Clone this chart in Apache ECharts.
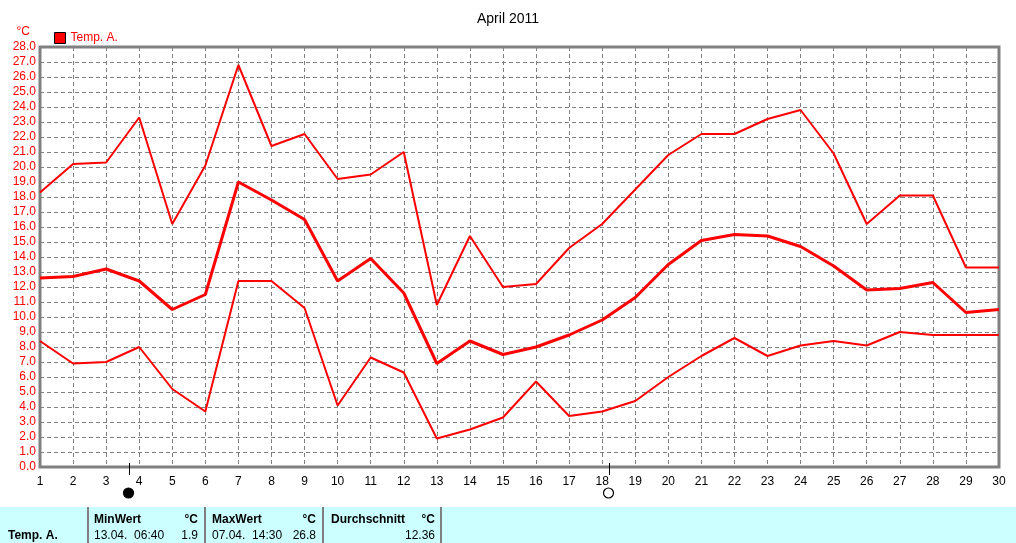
<!DOCTYPE html>
<html>
<head>
<meta charset="utf-8">
<script src="https://cdn.jsdelivr.net/npm/echarts@6/dist/echarts.min.js"></script>
<style>
  html, body { margin: 0; padding: 0; background: #fff; }
  #chart { width: 1016px; height: 543px; }
</style>
</head>
<body>
<div id="chart"></div>
<script>
// days of April 2011
const days = [];
for (let d = 1; d <= 30; d++) days.push(d);

// daily max / mean / min temperature, °C
const tempMax = [18.3, 20.2, 20.3, 23.3, 16.2, 20.1, 26.8, 21.4, 22.2, 19.2,
                 19.5, 21.0, 10.8, 15.4, 12.0, 12.2, 14.6, 16.2, 18.5, 20.8,
                 22.2, 22.2, 23.2, 23.8, 20.9, 16.2, 18.1, 18.1, 13.3, 13.3];
const tempMean = [12.6, 12.7, 13.2, 12.4, 10.5, 11.5, 19.0, 17.8, 16.5, 12.4,
                  13.9, 11.6, 6.9, 8.4, 7.5, 8.0, 8.8, 9.8, 11.3, 13.5,
                  15.1, 15.5, 15.4, 14.7, 13.4, 11.8, 11.9, 12.3, 10.3, 10.5];
const tempMin = [8.4, 6.9, 7.0, 8.0, 5.2, 3.7, 12.4, 12.4, 10.6, 4.1,
                 7.3, 6.3, 1.9, 2.5, 3.3, 5.7, 3.4, 3.7, 4.4, 6.0,
                 7.4, 8.6, 7.4, 8.1, 8.4, 8.1, 9.0, 8.8, 8.8, 8.8];

// moon phases (day position, new / full)
const moonDays = [3.7, 18.2];
const moonFull = [false, true];

// summary table
const seriesName = 'Temp. A.';
const minEntry = ['13.04.  06:40', '1.9'];
const maxEntry = ['07.04.  14:30', '26.8'];
const avgEntry = '12.36';

const font = '"Liberation Sans", Arial, sans-serif';

const chartDom = document.getElementById('chart');
const myChart = echarts.init(chartDom);

const toPairs = (arr) => arr.map((v, i) => [days[i], v]);

const lineSeries = (data, width) => ({
    name: seriesName,
    type: 'line',
    data: toPairs(data),
    symbol: 'none',
    color: '#ff0000',
    lineStyle: { color: '#ff0000', width: width },
});

const option = {
    animation: false,
    textStyle: { fontFamily: font },
    title: {
        text: 'April 2011',
        left: 'center',
        top: 7,
        textStyle: { fontFamily: font, fontSize: 14, fontWeight: 'normal', color: '#000' },
    },
    legend: {
        left: 49,
        top: 27,
        icon: 'rect',
        itemWidth: 11,
        itemHeight: 11,
        itemGap: 4,
        data: [seriesName],
        itemStyle: { borderColor: '#000', borderWidth: 1 },
        textStyle: { color: '#ff0000', fontSize: 12, fontFamily: font },
    },
    grid: {
        left: 40,
        top: 47,
        right: 17,
        bottom: 76,
        show: true,
        borderColor: '#808080',
        borderWidth: 3,
        containLabel: false,
    },
    xAxis: {
        type: 'value',
        min: 1,
        max: 30,
        interval: 1,
        axisLine: { show: false },
        axisTick: { show: false },
        axisLabel: { color: '#000', fontSize: 12, margin: 9, fontFamily: font },
        splitLine: { show: true, lineStyle: { color: '#808080', type: [4, 3], width: 1 } },
    },
    yAxis: {
        type: 'value',
        min: 0,
        max: 28,
        interval: 1,
        name: '°C',
        nameLocation: 'end',
        nameGap: 9,
        nameTextStyle: { color: '#ff0000', fontSize: 12, align: 'right', padding: [0, 10, 0, 0], fontFamily: font },
        axisLine: { show: false },
        axisTick: { show: false },
        axisLabel: {
            color: '#ff0000',
            fontSize: 12,
            margin: 4,
            fontFamily: font,
            formatter: (v) => v.toFixed(1),
        },
        splitLine: { show: true, lineStyle: { color: '#808080', type: [4, 3], width: 1 } },
    },
    series: [
        lineSeries(tempMax, 2),
        lineSeries(tempMean, 3),
        lineSeries(tempMin, 2),
    ],
};

myChart.setOption(option);

// moon markers and summary table
const graphics = [];
const axisY = myChart.convertToPixel({ gridIndex: 0 }, [1, 0])[1];
moonDays.forEach((d, i) => {
    const x = Math.round(myChart.convertToPixel({ gridIndex: 0 }, [d, 0])[0]) + 0.5;
    graphics.push({
        type: 'line',
        shape: { x1: x, y1: axisY - 4, x2: x, y2: axisY + 8 },
        style: { stroke: '#000', lineWidth: 1 },
    });
    graphics.push({
        type: 'circle',
        shape: { cx: x - 1, cy: axisY + 26, r: 5 },
        style: { fill: moonFull[i] ? '#fff' : '#000', stroke: '#000', lineWidth: 1.2 },
    });
});

const tableTop = 507;
graphics.push({
    type: 'rect',
    shape: { x: 0, y: tableTop, width: 1016, height: 36 },
    style: { fill: '#ccffff' },
});
[88, 205, 323, 441].forEach((x) => {
    graphics.push({
        type: 'line',
        shape: { x1: x, y1: tableTop, x2: x, y2: 543 },
        style: { stroke: '#808080', lineWidth: 2 },
    });
});
const txt = (text, x, y, align, bold) => ({
    type: 'text',
    x: x,
    y: y,
    style: {
        text: text,
        fill: '#000',
        font: (bold ? 'bold ' : '') + '12px ' + font,
        textAlign: align,
        textVerticalAlign: 'middle',
    },
});
graphics.push(txt(seriesName, 8, 536, 'left', true));
graphics.push(txt('MinWert', 94, 520, 'left', true));
graphics.push(txt('°C', 198, 520, 'right', true));
graphics.push(txt(minEntry[0], 94, 536, 'left', false));
graphics.push(txt(minEntry[1], 198, 536, 'right', false));
graphics.push(txt('MaxWert', 212, 520, 'left', true));
graphics.push(txt('°C', 316, 520, 'right', true));
graphics.push(txt(maxEntry[0], 212, 536, 'left', false));
graphics.push(txt(maxEntry[1], 316, 536, 'right', false));
graphics.push(txt('Durchschnitt', 331, 520, 'left', true));
graphics.push(txt('°C', 435, 520, 'right', true));
graphics.push(txt(avgEntry, 435, 536, 'right', false));

myChart.setOption({ graphic: graphics });
</script>
</body>
</html>
